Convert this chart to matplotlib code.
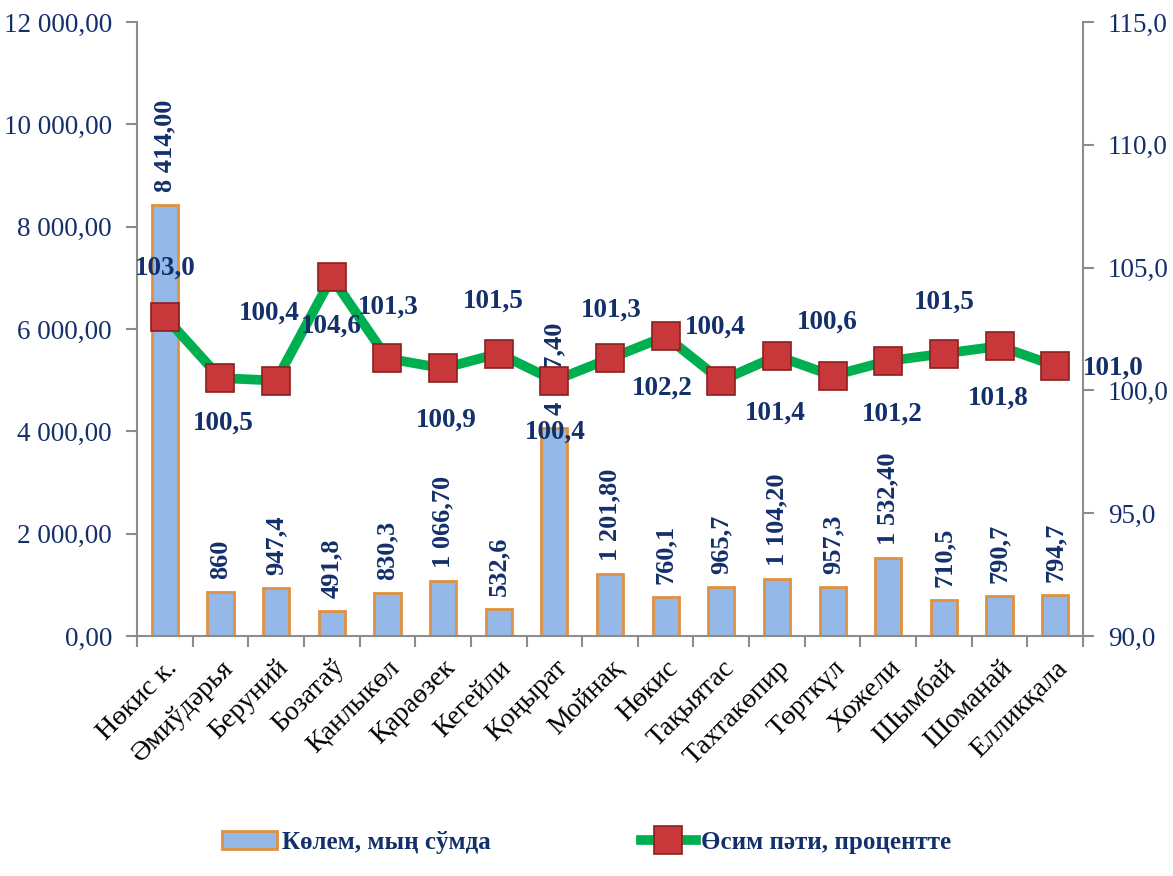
import matplotlib.pyplot as plt
import matplotlib.transforms as mtransforms
from matplotlib.ticker import FixedLocator, FuncFormatter

plt.rcParams["font.family"] = ["Liberation Serif", "DejaVu Serif"]

# Data
districts = [
    "Нөкис к.", "Әмиўдәрья", "Беруний", "Бозатаў", "Қанлыкөл", "Қараөзек",
    "Кегейли", "Қоңырат", "Мойнақ", "Нөкис", "Тақыятас", "Тахтакөпир",
    "Төрткүл", "Хожели", "Шымбай", "Шоманай", "Елликқала",
]
volume = [8414.0, 860, 947.4, 491.8, 830.3, 1066.7, 532.6, 4057.4, 1201.8,
          760.1, 965.7, 1104.2, 957.3, 1532.4, 710.5, 790.7, 794.7]
volume_labels = ["8 414,00", "860", "947,4", "491,8", "830,3", "1 066,70",
                 "532,6", "4 057,40", "1 201,80", "760,1", "965,7",
                 "1 104,20", "957,3", "1 532,40", "710,5", "790,7", "794,7"]
growth = [103.0, 100.5, 100.4, 104.6, 101.3, 100.9, 101.5, 100.4, 101.3,
          102.2, 100.4, 101.4, 100.6, 101.2, 101.5, 101.8, 101.0]

# label offsets for the growth values (pixels)
growth_offsets = [(0, 49), (3, -45), (-7, 67), (0, -49), (1, 51), (3, -52),
                  (-5, 52), (1, -52), (1, 48), (-3, -52), (-6, 53), (-2, -57),
                  (-5, 53), (4, -53), (0, 51), (-1, -52), (58, -2)]

navy = "#14306b"
spine_col = "#8c8c8c"

fig = plt.figure(figsize=(11.73, 8.76), dpi=100)
ax = fig.add_axes([0.1168, 0.274, 0.8065, 0.7009])
ax2 = ax.twinx()

x = list(range(len(districts)))
ax.bar(x, volume, width=0.47, color="#94b9e9", edgecolor="#e0913f",
       linewidth=2, zorder=2, label="Көлем, мың сўмда")

for xi, v, lab in zip(x, volume, volume_labels):
    ax.annotate(lab, (xi, v), xytext=(0, 13), textcoords="offset pixels",
                rotation=90, ha="center", va="bottom", fontsize=19,
                fontweight="bold", color=navy, zorder=5)

ax.set_xlim(-0.5, len(districts) - 0.5)
ax.set_ylim(0, 12000)
ax.set_yticks(range(0, 12001, 2000))
ax.yaxis.set_major_formatter(
    FuncFormatter(lambda v, p: f"{v:,.2f}".replace(",", " ").replace(".", ",")))
ax.set_xticks(x)
ax.set_xticklabels(districts, rotation=45, ha="right", rotation_mode="anchor",
                   fontsize=20)
shift = mtransforms.ScaledTranslation(0.24, 0, fig.dpi_scale_trans)
for lbl in ax.get_xticklabels():
    lbl.set_transform(lbl.get_transform() + shift)
ax.tick_params(axis="x", which="major", length=0, pad=14)
ax.xaxis.set_minor_locator(FixedLocator([i - 0.5 for i in range(len(districts) + 1)]))
ax.tick_params(axis="x", which="minor", length=8, color=spine_col, width=1.5)
ax.tick_params(axis="y", length=8, color=spine_col, width=1.5, labelsize=19.5,
               labelcolor=navy, pad=10)

ax2.plot(x, growth, color="#00b050", linewidth=7, marker="s", markersize=20,
         markerfacecolor="#c8383a", markeredgecolor="#8a2020",
         markeredgewidth=1.2, zorder=3, label="Өсим пәти, процентте")
for xi, g, (dx, dy) in zip(x, growth, growth_offsets):
    ax2.annotate(f"{g:.1f}".replace(".", ","), (xi, g), xytext=(dx, dy),
                 textcoords="offset pixels", ha="center", va="center",
                 fontsize=19.5, fontweight="bold", color=navy)

ax2.set_ylim(90, 115)
ax2.set_yticks(range(90, 116, 5))
ax2.yaxis.set_major_formatter(FuncFormatter(lambda v, p: f"{v:.1f}".replace(".", ",")))
ax2.tick_params(axis="y", length=8, color=spine_col, width=1.5, labelsize=19.5,
                labelcolor=navy, pad=10)

for a in (ax, ax2):
    a.spines["top"].set_visible(False)
    for s in ("left", "right", "bottom"):
        a.spines[s].set_color(spine_col)
        a.spines[s].set_linewidth(1.5)
ax.spines["right"].set_visible(False)
ax2.spines["left"].set_visible(False)
ax2.spines["bottom"].set_visible(False)

h1, l1 = ax.get_legend_handles_labels()
h2, l2 = ax2.get_legend_handles_labels()
fig.legend(h1 + h2, l1 + l2, loc="lower center", bbox_to_anchor=(0.5, 0.0),
           ncol=2, frameon=False, columnspacing=6, handlelength=2.2,
           handletextpad=0.2,
           prop={"family": ["Liberation Serif", "DejaVu Serif"],
                 "weight": "bold", "size": 18},
           labelcolor=navy)

plt.savefig("out.png", dpi=100)
